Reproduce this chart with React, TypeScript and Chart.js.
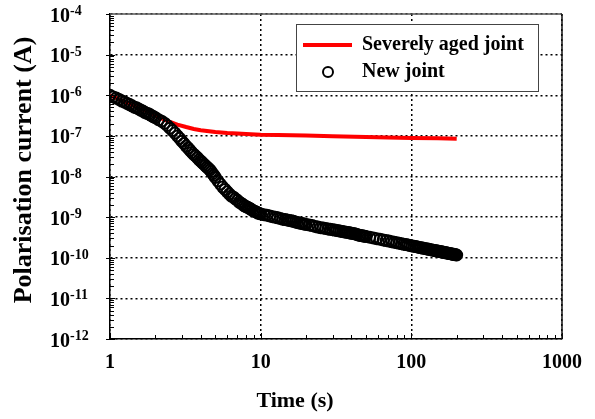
import React, { useEffect, useRef } from 'react';
import { Chart, registerables } from 'chart.js';

Chart.register(...registerables);

// ---- data ----
const seriesLabels = ['Severely aged joint', 'New joint'];
const xTitle = 'Time (s)';
const yTitle = 'Polarisation current (A)';
const xTickValues = [1, 10, 100, 1000];
const yTickExponents = [-12, -11, -10, -9, -8, -7, -6, -5, -4];
const yMin = 1e-12;
const yMax = 1e-4;

const agedTime = [1, 1.2, 1.4, 1.6, 1.8, 2, 2.2, 2.5, 2.8, 3.2, 3.6, 4, 5, 6, 7, 8, 10, 13, 20, 30, 50, 70, 100, 150, 200];
const agedCurrent = [1.0e-6, 7.4e-7, 5.7e-7, 4.6e-7, 3.9e-7, 3.2e-7, 2.7e-7, 2.2e-7, 1.9e-7, 1.65e-7, 1.48e-7, 1.38e-7, 1.25e-7, 1.18e-7, 1.14e-7, 1.11e-7, 1.07e-7, 1.05e-7, 1.02e-7, 9.8e-8, 9.4e-8, 9.1e-8, 8.9e-8, 8.7e-8, 8.5e-8];

const newTime = [
  1, 1.05, 1.1, 1.15, 1.2, 1.25, 1.3, 1.35, 1.4, 1.45, 1.5, 1.55, 1.6, 1.65, 1.7, 1.75, 1.8, 1.85, 1.9, 1.95, 2,
  2.1, 2.2, 2.3, 2.4, 2.5, 2.6, 2.7, 2.8, 2.9, 3, 3.1, 3.2, 3.3, 3.4, 3.5, 3.6, 3.7, 3.8, 3.9, 4,
  4.1, 4.2, 4.3, 4.4, 4.5, 4.6, 4.7, 4.8, 4.9, 5,
  5.2, 5.4, 5.6, 5.8, 6, 6.2, 6.4, 6.6, 6.8, 7, 7.2, 7.4, 7.6, 7.8, 8, 8.2, 8.4, 8.6, 8.8, 9, 9.2, 9.4, 9.6, 9.8, 10,
  10.5, 11, 11.5, 12, 12.5, 13, 13.5, 14, 14.5, 15, 15.5, 16, 16.5, 17, 17.5, 18, 18.5, 19, 19.5, 20,
  21, 22, 23, 24, 25, 26, 27, 28, 29, 30, 31, 32, 33, 34, 35, 36, 37, 38, 39, 40,
  41, 42, 43, 44, 45, 46, 47, 48, 49, 50,
  53, 56, 59, 62, 65, 68, 71, 74, 77, 80, 83, 86, 89, 92, 95, 98, 101, 104, 107, 110,
  113, 116, 119, 122, 125, 128, 131, 134, 137, 140, 143, 146, 149, 152, 155, 158, 161, 164, 167, 170,
  173, 176, 179, 182, 185, 188, 191, 194, 197, 200,
];
const newCurrent = [
  1.0e-6, 9.1e-7, 8.5e-7, 7.9e-7, 7.2e-7, 6.8e-7, 6.3e-7, 5.9e-7, 5.5e-7, 5.1e-7, 4.9e-7, 4.6e-7, 4.3e-7, 4.1e-7, 3.8e-7, 3.6e-7, 3.5e-7, 3.3e-7, 3.1e-7, 2.95e-7, 2.8e-7,
  2.5e-7, 2.3e-7, 2.05e-7, 1.8e-7, 1.55e-7, 1.35e-7, 1.17e-7, 1.0e-7, 8.7e-8, 7.4e-8, 6.5e-8, 5.6e-8, 5.0e-8, 4.4e-8, 3.9e-8, 3.5e-8, 3.2e-8, 2.9e-8, 2.6e-8, 2.4e-8,
  2.2e-8, 2.0e-8, 1.86e-8, 1.7e-8, 1.58e-8, 1.45e-8, 1.32e-8, 1.17e-8, 1.07e-8, 9.5e-9,
  7.8e-9, 6.5e-9, 5.5e-9, 4.8e-9, 4.2e-9, 3.7e-9, 3.3e-9, 3.1e-9, 2.8e-9, 2.6e-9, 2.35e-9, 2.2e-9, 2.05e-9, 1.9e-9, 1.82e-9, 1.74e-9, 1.66e-9, 1.58e-9, 1.48e-9, 1.41e-9, 1.38e-9, 1.32e-9, 1.26e-9, 1.23e-9, 1.2e-9,
  1.15e-9, 1.12e-9, 1.07e-9, 1.02e-9, 1.0e-9, 9.6e-10, 9.3e-10, 8.9e-10, 8.7e-10, 8.5e-10, 8.3e-10, 8.1e-10, 7.9e-10, 7.6e-10, 7.4e-10, 7.2e-10, 7.1e-10, 6.9e-10, 6.8e-10, 6.6e-10,
  6.4e-10, 6.2e-10, 5.9e-10, 5.7e-10, 5.5e-10, 5.4e-10, 5.25e-10, 5.1e-10, 5.0e-10, 4.9e-10, 4.8e-10, 4.7e-10, 4.6e-10, 4.5e-10, 4.4e-10, 4.3e-10, 4.25e-10, 4.2e-10, 4.1e-10, 4.0e-10,
  3.95e-10, 3.9e-10, 3.8e-10, 3.7e-10, 3.6e-10, 3.55e-10, 3.5e-10, 3.45e-10, 3.4e-10, 3.35e-10,
  3.2e-10, 3.08e-10, 2.95e-10, 2.85e-10, 2.74e-10, 2.65e-10, 2.57e-10, 2.49e-10, 2.41e-10, 2.34e-10, 2.28e-10, 2.22e-10, 2.16e-10, 2.11e-10, 2.06e-10, 2.01e-10, 1.96e-10, 1.92e-10, 1.88e-10, 1.84e-10,
  1.8e-10, 1.77e-10, 1.73e-10, 1.7e-10, 1.67e-10, 1.64e-10, 1.61e-10, 1.58e-10, 1.56e-10, 1.53e-10, 1.51e-10, 1.48e-10, 1.46e-10, 1.44e-10, 1.42e-10, 1.4e-10, 1.38e-10, 1.36e-10, 1.34e-10, 1.32e-10,
  1.3e-10, 1.29e-10, 1.27e-10, 1.26e-10, 1.24e-10, 1.23e-10, 1.21e-10, 1.2e-10, 1.18e-10, 1.17e-10,
];

// ---- styling ----
const FONT = '"Liberation Serif", "Times New Roman", Times, serif';

const isPow10 = (v: number) => {
  const e = Math.round(Math.log10(v));
  return Math.abs(v / Math.pow(10, e) - 1) < 1e-6;
};

const decorPlugin = {
  id: 'decor',
  afterDatasetsDraw(chart: any) {
    const { ctx, chartArea: a, scales } = chart;
    const xs = scales.x;
    const ys = scales.y;
    ctx.save();
    ctx.strokeStyle = '#000';
    ctx.lineWidth = 1;
    // x axis tick marks (inside)
    for (const d of [1, 10, 100]) {
      for (let k = 1; k <= 10; k++) {
        const v = k * d;
        if (v > 1000) continue;
        const px = Math.round(xs.getPixelForValue(v)) + 0.5;
        const len = k === 1 || k === 10 ? 6 : 4;
        ctx.beginPath();
        ctx.moveTo(px, a.bottom);
        ctx.lineTo(px, a.bottom - len);
        ctx.stroke();
      }
    }
    // y axis tick marks
    for (let e = -12; e <= -5; e++) {
      for (let k = 1; k <= 9; k++) {
        const v = k * Math.pow(10, e);
        const py = Math.round(ys.getPixelForValue(v)) + 0.5;
        ctx.beginPath();
        if (k === 1) {
          ctx.moveTo(a.left - 4, py);
          ctx.lineTo(a.left + 5, py);
        } else {
          ctx.moveTo(a.left - 1, py);
          ctx.lineTo(a.left + 4, py);
        }
        ctx.stroke();
      }
    }
    {
      const py = Math.round(ys.getPixelForValue(yMax)) + 0.5;
      ctx.beginPath();
      ctx.moveTo(a.left - 4, py);
      ctx.lineTo(a.left, py);
      ctx.stroke();
    }
    // frame: top and right
    ctx.lineWidth = 1.5;
    ctx.strokeStyle = '#555';
    ctx.beginPath();
    ctx.moveTo(a.left, a.top);
    ctx.lineTo(a.right, a.top);
    ctx.stroke();
    ctx.strokeStyle = '#111';
    ctx.beginPath();
    ctx.moveTo(a.right, a.top);
    ctx.lineTo(a.right, a.bottom);
    ctx.stroke();
    ctx.restore();
  },
  afterDraw(chart: any) {
    const { ctx, scales } = chart;
    const ys = scales.y;
    ctx.save();
    ctx.fillStyle = '#000';

    // y tick labels: 10 with raised exponent
    ctx.textAlign = 'left';
    ctx.textBaseline = 'alphabetic';
    for (const e of yTickExponents) {
      const py = ys.getPixelForValue(Math.pow(10, e));
      ctx.font = `bold 20px ${FONT}`;
      const base = '10';
      ctx.fillText(base, 50, py + 7.5);
      const w = ctx.measureText(base).width;
      ctx.font = `bold 14px ${FONT}`;
      ctx.fillText(String(e), 50 + w, py + 1);
    }

    // axis titles
    ctx.textAlign = 'center';
    ctx.textBaseline = 'middle';
    ctx.font = `bold 22px ${FONT}`;
    ctx.fillText(xTitle, 295, 401);
    ctx.translate(24, 170);
    ctx.rotate(-Math.PI / 2);
    ctx.font = `bold 26px ${FONT}`;
    ctx.fillText(yTitle, 0, 0);
    ctx.restore();

    // legend box
    ctx.save();
    const bx = 296, by = 24, bw = 242, bh = 67;
    ctx.fillStyle = '#fff';
    ctx.fillRect(bx, by, bw, bh);
    ctx.strokeStyle = '#444';
    ctx.lineWidth = 1;
    ctx.strokeRect(bx + 0.5, by + 0.5, bw, bh);
    const ds = chart.data.datasets;
    ctx.strokeStyle = ds[0].borderColor;
    ctx.lineWidth = 4;
    ctx.beginPath();
    ctx.moveTo(303, 45);
    ctx.lineTo(352, 45);
    ctx.stroke();
    ctx.strokeStyle = '#000';
    ctx.lineWidth = 2;
    ctx.beginPath();
    ctx.arc(328, 72, 5, 0, Math.PI * 2);
    ctx.stroke();
    ctx.fillStyle = '#000';
    ctx.font = `bold 20px ${FONT}`;
    ctx.textAlign = 'left';
    ctx.textBaseline = 'middle';
    ctx.fillText(ds[0].label, 362, 45);
    ctx.fillText(ds[1].label, 362, 72);
    ctx.restore();
  },
};

export default function App() {
  const canvasRef = useRef<HTMLCanvasElement | null>(null);

  useEffect(() => {
    const canvas = canvasRef.current;
    if (!canvas) return;
    const gridColor = (c: any) => (c.tick && isPow10(c.tick.value) ? '#000' : 'rgba(0,0,0,0)');
    const chart = new Chart(canvas, {
      type: 'line',
      data: {
        datasets: [
          {
            label: seriesLabels[0],
            data: agedTime.map((t, i) => ({ x: t, y: agedCurrent[i] })),
            borderColor: '#ff0000',
            backgroundColor: '#ff0000',
            borderWidth: 4,
            pointRadius: 0,
            tension: 0,
            order: 2,
          },
          {
            label: seriesLabels[1],
            data: newTime.map((t, i) => ({ x: t, y: newCurrent[i] })),
            showLine: false,
            borderColor: '#000',
            backgroundColor: 'rgba(0,0,0,0)',
            pointStyle: 'circle',
            pointRadius: 5.5,
            pointBorderWidth: 2,
            pointBorderColor: '#000',
            pointBackgroundColor: 'rgba(0,0,0,0)',
            order: 1,
          },
        ],
      },
      options: {
        responsive: false,
        animation: false,
        events: [],
        layout: { padding: { left: 50, right: 33, top: 14, bottom: 0 } },
        plugins: { legend: { display: false }, tooltip: { enabled: false } },
        scales: {
          x: {
            type: 'logarithmic',
            min: 1,
            max: 1000,
            afterFit: (s: any) => { s.height = 80; },
            afterBuildTicks: (s: any) => {
              s.ticks = s.ticks.filter((t: any) => t.value >= 1 && t.value <= 1000);
            },
            grid: { color: gridColor, lineWidth: 1.5, drawTicks: false },
            border: { display: true, color: '#000', width: 1.5, dash: [2, 3] },
            ticks: {
              autoSkip: false,
              maxRotation: 0,
              padding: 12,
              color: '#000',
              font: { family: FONT, size: 20, weight: 'bold' },
              callback: (v: any) => (xTickValues.includes(Number(v)) ? String(v) : ''),
            },
          },
          y: {
            type: 'logarithmic',
            min: yMin,
            max: yMax,
            afterFit: (s: any) => { s.width = 60; },
            grid: { color: gridColor, lineWidth: 1.5, drawTicks: false },
            border: { display: true, color: '#000', width: 1.5, dash: [2, 3] },
            ticks: { display: false, autoSkip: false },
          },
        },
      },
      plugins: [decorPlugin],
    } as any);
    return () => chart.destroy();
  }, []);

  return (
    <div style={{ position: 'absolute', left: 0, top: 0, width: 595, height: 419, background: '#fff' }}>
      <canvas ref={canvasRef} width={595} height={419} style={{ width: 595, height: 419 }} />
    </div>
  );
}
